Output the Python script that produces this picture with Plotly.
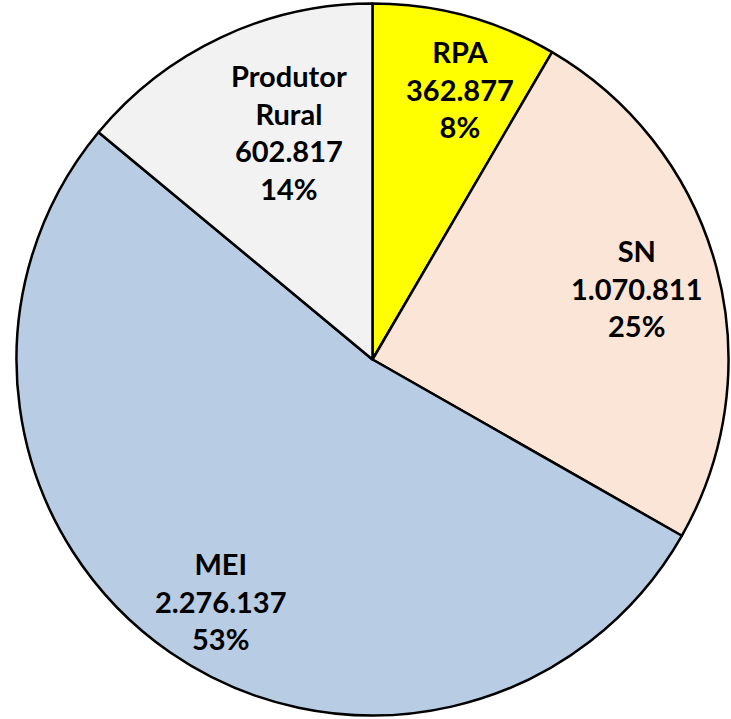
import math
import plotly.graph_objects as go

categories = ["RPA", "SN", "MEI", "Produtor<br>Rural"]
values = [362877, 1070811, 2276137, 602817]
colors = ["#FFFF00", "#FBE5D6", "#B8CCE4", "#F2F2F2"]

# label placement (style): radial fraction of radius and angular nudge (deg)
label_radius = [0.80, 0.77, 0.80, 0.68]
label_nudge = [2.8, 0.0, -2.5, 5.0]

def fmt(v):
    return f"{v:,}".replace(",", ".")

total = sum(values)
texts = [f"{c}<br>{fmt(v)}<br>{round(100*v/total)}%" for c, v in zip(categories, values)]

W, H = 731, 719
cx, cy, r = 372.5, 359.5, 356

fig = go.Figure(go.Pie(
    labels=categories,
    values=values,
    textinfo="none",
    sort=False,
    direction="clockwise",
    rotation=0,
    marker=dict(colors=colors, line=dict(color="black", width=2.5)),
    hoverinfo="label+value+percent",
    domain=dict(x=[(cx - r) / W, (cx + r) / W], y=[1 - (cy + r) / H, 1 - (cy - r) / H]),
))

cum = 0.0
for txt, v, f, nd in zip(texts, values, label_radius, label_nudge):
    mid = (cum + v / 2) / total * 2 * math.pi + math.radians(nd)
    cum += v
    px = cx + f * r * math.sin(mid)
    py = cy - f * r * math.cos(mid)
    fig.add_annotation(
        x=px / W, y=1 - py / H, xref="paper", yref="paper",
        text=txt, showarrow=False, align="center",
        xanchor="center", yanchor="middle",
        font=dict(family="Lato", size=29, color="black", weight="bold"),
    )

fig.update_layout(
    width=W, height=H,
    margin=dict(l=0, r=0, t=0, b=0),
    showlegend=False,
    paper_bgcolor="white",
)
fig.write_html("out.html", config={"displayModeBar": False},
               post_script="document.body.style.margin='0';")
